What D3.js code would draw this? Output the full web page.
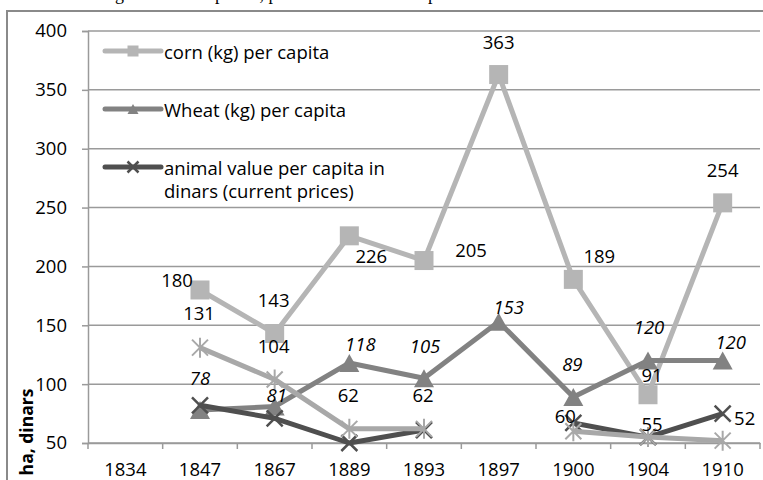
<!DOCTYPE html>
<html>
<head>
<meta charset="utf-8">
<script src="https://cdn.jsdelivr.net/npm/d3@7"></script>
<style>
  body { margin: 0; background: #fff; }
  svg { display: block; font-family: 'Open Sans', sans-serif; }
</style>
</head>
<body>
<div id="chart"></div>
<script>
// categories on the x axis
var years = ['1834', '1847', '1867', '1889', '1893', '1897', '1900', '1904', '1910']
var yTicks = [50, 100, 150, 200, 250, 300, 350, 400]

// series values, null where there is no point
var corn = [null, 180, 143, 226, 205, 363, 189, 91, 254]
var wheat = [null, 78, 81, 118, 105, 153, 89, 120, 120]
var animal = [null, 82, 71, 50, 61, null, 67, 55, 75]
var fourth = [null, 131, 104, 62, 62, null, 60, 55, 52]

// label nudges (dx, dy from the point), the labels were moved by hand in the original
var cornNudge = [null, [-23, -10], [-1, -34], [22, 20], [47, -11], [0, -33], [26, -24], [4, -20], [0, -33]]
var wheatNudge = [null, [0, -33], [2, -12], [11, -19], [1, -33], [10, -15], [-1, -34], [1, -34], [8, -19]]
var fourthNudge = [null, [-1, -35], [-1, -34], [-1, -34], [-1, -34], null, [-8, -16], [4, -14], [22, -23]]

var width = 763
var height = 480
var margin = { left: 88, right: 3, top: 31, bottom: 37 }
var fontSize = '18.5px'

var svg = d3.select('#chart')
  .append('svg')
  .attr('width', width)
  .attr('height', height)

// title line of the page above, only its descenders show
svg.append('text')
  .attr('x', 100)
  .attr('y', 0)
  .style('font-family', "'Liberation Serif', serif")
  .style('font-size', '18px')
  .text('Figure 5. Areas per ha, per head and the total per hectare')

// outer frame of the chart object
svg.append('rect')
  .attr('x', 7)
  .attr('y', 11)
  .attr('width', 800)
  .attr('height', 500)
  .attr('fill', 'none')
  .attr('stroke', '#8a8a8a')
  .attr('stroke-width', 2)

var x = d3.scaleBand()
  .domain(years)
  .range([margin.left, width - margin.right])
  .padding(0)

var y = d3.scaleLinear()
  .domain([50, 400])
  .range([height - margin.bottom, margin.top])

var cx = function (i) { return x(years[i]) + x.bandwidth() / 2 }

// gridlines
svg.append('g')
  .selectAll('line')
  .data(yTicks)
  .enter()
  .append('line')
  .attr('x1', margin.left)
  .attr('x2', width - margin.right)
  .attr('y1', d => y(d))
  .attr('y2', d => y(d))
  .attr('stroke', '#9a9a9a')
  .attr('stroke-width', 1.5)

// y axis
var yAxis = svg.append('g')
  .attr('transform', 'translate(' + margin.left + ',0)')
  .call(d3.axisLeft(y).tickValues(yTicks).tickSize(6).tickPadding(15))
yAxis.selectAll('line, path').attr('stroke', '#9a9a9a').attr('stroke-width', 1.5)
yAxis.selectAll('text').style('font-size', fontSize).style('font-family', "'Open Sans', sans-serif").attr('fill', '#000')

// x axis, ticks sit between the categories
var xAxis = svg.append('g')
  .attr('transform', 'translate(0,' + y(50) + ')')
  .call(d3.axisBottom(x).tickSize(0).tickPadding(20))
xAxis.select('path').attr('stroke', '#9a9a9a').attr('stroke-width', 1.5)
xAxis.selectAll('text').style('font-size', fontSize).style('font-family', "'Open Sans', sans-serif").attr('fill', '#000')

svg.append('g')
  .selectAll('line')
  .data(years.map(d => x(d)).concat([x.range()[1]]))
  .enter()
  .append('line')
  .attr('x1', d => d)
  .attr('x2', d => d)
  .attr('y1', y(50))
  .attr('y2', y(50) + 6)
  .attr('stroke', '#9a9a9a')
  .attr('stroke-width', 1.5)

// y axis title
svg.append('text')
  .attr('transform', 'translate(33,432) rotate(-90)')
  .attr('text-anchor', 'middle')
  .style('font-size', '17.5px')
  .style('font-weight', 'bold')
  .text('ha, dinars')

var line = d3.line()
  .defined(d => d != null)
  .x((d, i) => cx(i))
  .y(d => y(d))

var series = [
  { name: 'corn', values: corn, color: '#b5b5b5', marker: 'square' },
  { name: 'wheat', values: wheat, color: '#828282', marker: 'triangle' },
  { name: 'animal', values: animal, color: '#4f4f4f', marker: 'x' },
  { name: 'fourth', values: fourth, color: '#a8a8a8', marker: 'star' }
]

var drawMarker = function (g, type, color, s) {
  if (type == 'square') {
    g.append('rect').attr('x', -s / 2).attr('y', -s / 2).attr('width', s).attr('height', s).attr('fill', color)
  } else if (type == 'triangle') {
    var h = s * 0.9
    g.append('path').attr('d', 'M0,' + (-h / 2) + 'L' + (s / 2) + ',' + (h / 2) + 'L' + (-s / 2) + ',' + (h / 2) + 'Z').attr('fill', color)
  } else if (type == 'x') {
    var r = s / 2
    g.append('path').attr('d', 'M' + -r + ',' + -r + 'L' + r + ',' + r + 'M' + -r + ',' + r + 'L' + r + ',' + -r)
      .attr('stroke', color).attr('stroke-width', 2.5).attr('fill', 'none')
  } else {
    var r = s / 2
    g.append('path').attr('d', 'M' + -r + ',' + -r + 'L' + r + ',' + r + 'M' + -r + ',' + r + 'L' + r + ',' + -r + 'M0,' + (-r - 2) + 'L0,' + (r + 2))
      .attr('stroke', color).attr('stroke-width', 2).attr('fill', 'none')
  }
}

series.forEach(function (s) {
  svg.append('path')
    .datum(s.values)
    .attr('d', line)
    .attr('fill', 'none')
    .attr('stroke', s.color)
    .attr('stroke-width', 5)
    .attr('stroke-linejoin', 'round')

  s.values.forEach(function (v, i) {
    if (v == null) return
    var g = svg.append('g').attr('transform', 'translate(' + cx(i) + ',' + y(v) + ')')
    drawMarker(g, s.marker, s.color, s.marker == 'square' ? 19 : (s.marker == 'triangle' ? 20 : 16))
  })
})

// data labels
var addLabels = function (values, nudge, italic) {
  values.forEach(function (v, i) {
    if (v == null || nudge[i] == null) return
    svg.append('text')
      .attr('x', cx(i) + nudge[i][0])
      .attr('y', y(v) + nudge[i][1])
      .attr('text-anchor', 'middle')
      .attr('dominant-baseline', 'central')
      .style('font-size', fontSize)
      .style('font-style', italic ? 'italic' : 'normal')
      .text(v)
  })
}
addLabels(corn, cornNudge, false)
addLabels(wheat, wheatNudge, true)
addLabels(fourth, fourthNudge, false)

// legend
var legendItems = [
  { lines: ['corn (kg) per capita'], s: series[0], y: 51 },
  { lines: ['Wheat (kg) per capita'], s: series[1], y: 109 },
  { lines: ['animal value per capita in', 'dinars (current prices)'], s: series[2], y: 167 }
]
legendItems.forEach(function (item) {
  svg.append('line')
    .attr('x1', 105).attr('x2', 161)
    .attr('y1', item.y).attr('y2', item.y)
    .attr('stroke', item.s.color)
    .attr('stroke-width', 5)
    .attr('stroke-linecap', 'round')
  var g = svg.append('g').attr('transform', 'translate(133,' + item.y + ')')
  drawMarker(g, item.s.marker, item.s.color, 11)
  item.lines.forEach(function (t, k) {
    svg.append('text')
      .attr('x', 164)
      .attr('y', item.y + k * 23)
      .attr('dominant-baseline', 'central')
      .style('font-size', fontSize)
      .text(t)
  })
})
</script>
</body>
</html>
